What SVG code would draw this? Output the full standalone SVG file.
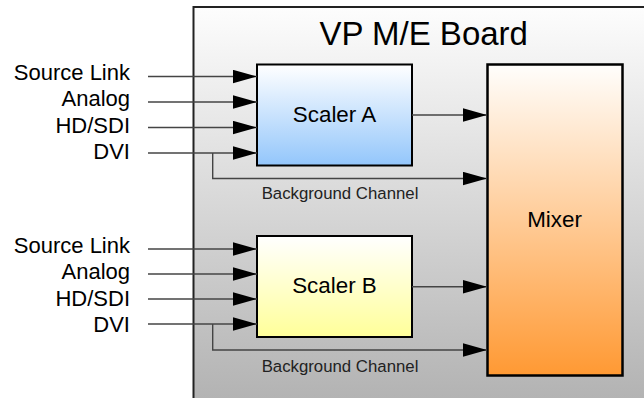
<svg xmlns="http://www.w3.org/2000/svg" width="644" height="398" viewBox="0 0 644 398">
  <defs>
    <linearGradient id="gBoard" gradientUnits="userSpaceOnUse" x1="0" y1="7" x2="0" y2="398">
      <stop offset="0" stop-color="#fdfdfd"/>
      <stop offset="1" stop-color="#b3b3b3"/>
    </linearGradient>
    <linearGradient id="gBlue" x1="0" y1="0" x2="0" y2="1">
      <stop offset="0" stop-color="#ffffff"/>
      <stop offset="1" stop-color="#93c6fb"/>
    </linearGradient>
    <linearGradient id="gYellow" x1="0" y1="0" x2="0" y2="1">
      <stop offset="0" stop-color="#ffffff"/>
      <stop offset="1" stop-color="#ffff99"/>
    </linearGradient>
    <linearGradient id="gOrange" x1="0" y1="0" x2="0" y2="1">
      <stop offset="0" stop-color="#fffefc"/>
      <stop offset="1" stop-color="#ff9933"/>
    </linearGradient>
    <marker id="arr" markerUnits="userSpaceOnUse" markerWidth="24" markerHeight="14" refX="24" refY="6.7" orient="auto">
      <path d="M0,0 L24,6.7 L0,13.4 Z" fill="#000"/>
    </marker>
  </defs>
  <style>
    text { font-family: "Liberation Sans", Arial, sans-serif; fill: #000; }
    .lbl { font-size: 22px; text-anchor: end; }
    .box { stroke: #000; stroke-width: 2; }
    .name { font-size: 22.4px; text-anchor: middle; }
    .bg { font-size: 16.8px; text-anchor: middle; fill: #222; }
    .c { fill: none; stroke: #444; stroke-width: 1.4; }
    .a { marker-end: url(#arr); }
  </style>

  <g id="board">
    <rect x="193.5" y="7" width="500" height="430" fill="url(#gBoard)" stroke="#222" stroke-width="2"/>
    <text x="423.7" y="45" font-size="33" text-anchor="middle">VP M/E Board</text>
  </g>

  <g id="inputs-a">
    <text class="lbl" x="130" y="79.5">Source Link</text>
    <text class="lbl" x="130" y="106">Analog</text>
    <text class="lbl" x="130" y="132.5">HD/SDI</text>
    <text class="lbl" x="130" y="159.2">DVI</text>
  </g>
  <g id="inputs-b">
    <text class="lbl" x="130" y="252.5">Source Link</text>
    <text class="lbl" x="130" y="279">Analog</text>
    <text class="lbl" x="130" y="305.5">HD/SDI</text>
    <text class="lbl" x="130" y="332.2">DVI</text>
  </g>

  <g id="scaler-a">
    <rect class="box" x="257" y="64.5" width="155" height="101" fill="url(#gBlue)"/>
    <text class="name" x="334.5" y="122.3">Scaler A</text>
  </g>
  <g id="scaler-b">
    <rect class="box" x="257" y="236" width="155" height="101" fill="url(#gYellow)"/>
    <text class="name" x="334.5" y="292.7">Scaler B</text>
  </g>
  <g id="mixer">
    <rect x="487.5" y="64.5" width="135" height="311" fill="url(#gOrange)" stroke="#000" stroke-width="2.5"/>
    <text class="name" x="554.5" y="226.7">Mixer</text>
  </g>

  <g id="connectors">
    <line class="c a" x1="148" y1="76.5" x2="257" y2="76.5"/>
    <line class="c a" x1="148" y1="102" x2="257" y2="102"/>
    <line class="c a" x1="148" y1="127.5" x2="257" y2="127.5"/>
    <line class="c a" x1="148" y1="153" x2="257" y2="153"/>
    <polyline class="c a" points="212.7,153 212.7,178.5 487,178.5"/>
    <line class="c a" x1="412" y1="115" x2="487" y2="115"/>

    <line class="c a" x1="148" y1="249" x2="257" y2="249"/>
    <line class="c a" x1="148" y1="274" x2="257" y2="274"/>
    <line class="c a" x1="148" y1="299" x2="257" y2="299"/>
    <line class="c a" x1="148" y1="324" x2="257" y2="324"/>
    <polyline class="c a" points="212.7,324 212.7,350 487,350"/>
    <line class="c a" x1="412" y1="286.7" x2="487" y2="286.7"/>

    <text class="bg" x="340" y="199">Background Channel</text>
    <text class="bg" x="340" y="372.3">Background Channel</text>
  </g>
</svg>
